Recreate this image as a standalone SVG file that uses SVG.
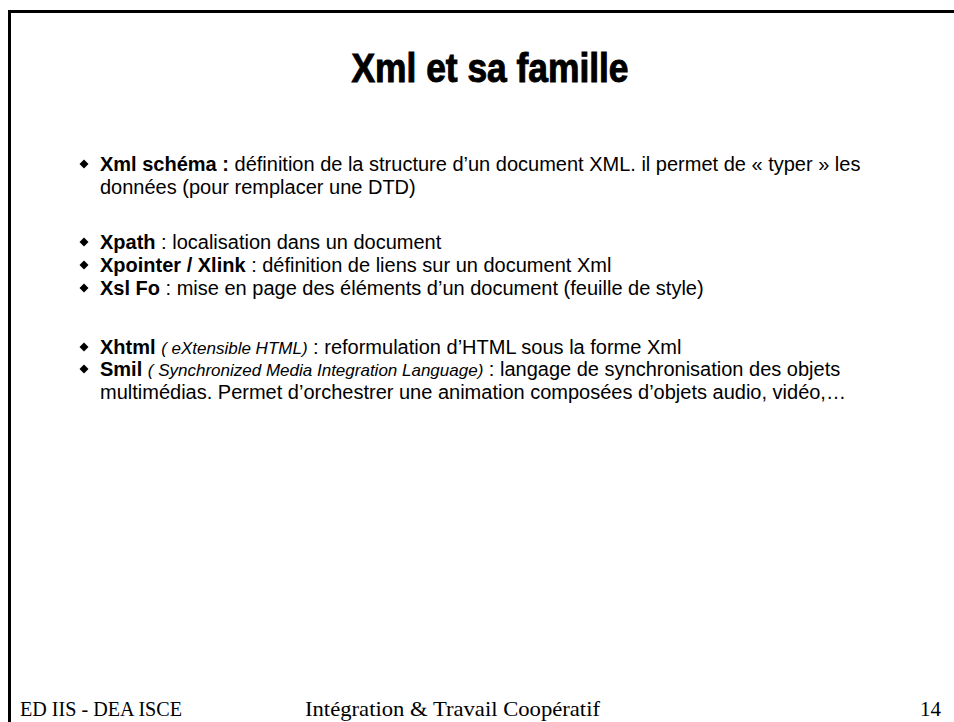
<svg xmlns="http://www.w3.org/2000/svg" width="954" height="722" viewBox="0 0 954 722">
  <style>
    .frame { fill: none; stroke: #000; stroke-width: 3; }
    .title { font-family: "Liberation Sans", Arial, sans-serif; font-weight: bold; font-size: 40px; fill: #000; stroke: #000; stroke-width: 1; }
    .body { font-family: "Liberation Sans", Arial, sans-serif; font-size: 20px; fill: #000; }
    .b { font-weight: bold; }
    .i { font-style: italic; font-size: 17px; }
    .foot { font-family: "Liberation Serif", "Times New Roman", serif; font-size: 21px; fill: #000; }
    .bullet { fill: #000; }
  </style>
  <defs>
    <path id="diamond" d="M0,-4.5 L4.5,0 L0,4.5 L-4.5,0 Z"/>
  </defs>
  <rect width="954" height="722" fill="#fff"/>
  <!-- page frame: only the top and left edges fall inside the view -->
  <path class="frame" d="M9.5,722 L9.5,11.5 L954,11.5"/>

  <g id="title">
    <text class="title" x="490" y="82" text-anchor="middle" textLength="277" lengthAdjust="spacingAndGlyphs">Xml et sa famille</text>
  </g>

  <g id="bullets" class="bullet">
    <use href="#diamond" x="84" y="164"/>
    <use href="#diamond" x="84" y="242"/>
    <use href="#diamond" x="84" y="265"/>
    <use href="#diamond" x="84" y="288"/>
    <use href="#diamond" x="84" y="347"/>
    <use href="#diamond" x="84" y="369"/>
  </g>

  <g id="items" class="body">
    <text x="100" y="171"><tspan class="b">Xml schéma :</tspan> définition de la structure d’un document XML. il permet de « typer » les</text>
    <text x="100" y="194">données (pour remplacer une DTD)</text>
    <text x="100" y="249"><tspan class="b">Xpath</tspan> : localisation dans un document</text>
    <text x="100" y="272"><tspan class="b">Xpointer / Xlink</tspan> : définition de liens sur un document Xml</text>
    <text x="100" y="295"><tspan class="b">Xsl Fo</tspan> : mise en page des éléments d’un document (feuille de style)</text>
    <text x="100" y="354"><tspan class="b">Xhtml</tspan> <tspan class="i">( eXtensible HTML)</tspan> : reformulation d’HTML sous la forme Xml</text>
    <text x="100" y="376"><tspan class="b">Smil</tspan> <tspan class="i">( Synchronized Media Integration Language)</tspan> : langage de synchronisation des objets</text>
    <text x="100" y="399">multimédias. Permet d’orchestrer une animation composées d’objets audio, vidéo,…</text>
  </g>

  <g id="footer" class="foot">
    <text x="20" y="716" textLength="162" lengthAdjust="spacingAndGlyphs">ED IIS - DEA ISCE</text>
    <text x="305" y="716" textLength="295" lengthAdjust="spacingAndGlyphs">Intégration &amp; Travail Coopératif</text>
    <text x="941" y="716" text-anchor="end">14</text>
  </g>
</svg>
